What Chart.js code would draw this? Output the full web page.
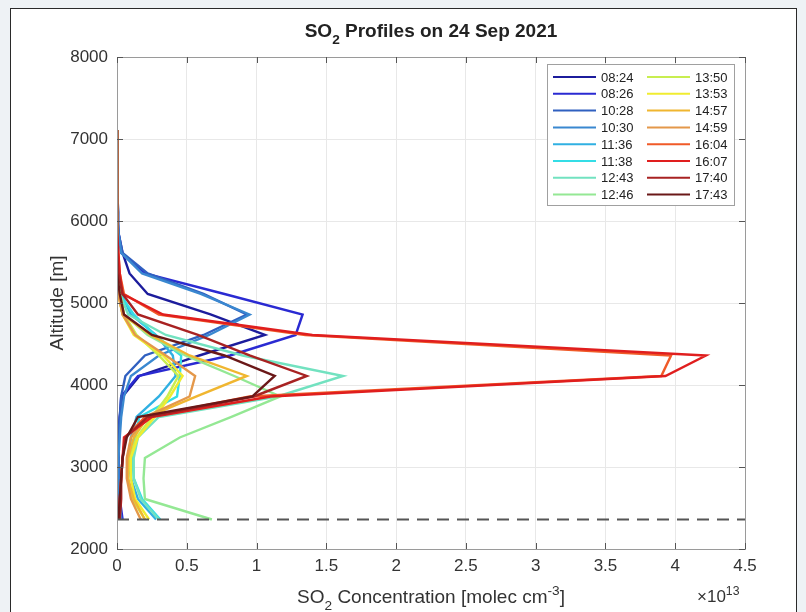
<!DOCTYPE html>
<html>
<head>
<meta charset="utf-8">
<title>SO2 Profiles on 24 Sep 2021</title>
<script src="https://cdn.jsdelivr.net/npm/chart.js@4.4.1/dist/chart.umd.min.js"></script>
<style>
  html, body { margin: 0; padding: 0; background: #eef2f5; }
  .panel { position: absolute; left: 10px; top: 8px; width: 785px; height: 620px; background: #fff; border: 1.5px solid #2a2a2a; }
  #chart { position: absolute; left: 0; top: 0; }
</style>
</head>
<body>
<div class="panel"></div>
<canvas id="chart" width="806" height="612"></canvas>
<script>
// altitude levels [m]
const altitudes = [2360, 2610, 2860, 3110, 3360, 3610, 3860, 4110, 4360, 4610, 4860, 5110, 5360, 5610, 5860, 6110, 6360, 6610, 6860, 7110];

// profile times
const times = ['08:24', '08:26', '10:28', '10:30', '11:36', '11:38', '12:43', '12:46',
               '13:50', '13:53', '14:57', '14:59', '16:04', '16:07', '17:40', '17:43'];

// SO2 concentration, x 1e13 molec cm-3
const c0824 = [0.03, 0.02, 0.01, 0.01, 0.01, 0.02, 0.04, 0.16, 0.59, 1.06, 0.67, 0.22, 0.09, 0.04, 0.01, 0, 0, 0, 0, 0];
const c0826 = [0.04, 0.02, 0.01, 0.01, 0.01, 0.02, 0.03, 0.15, 0.81, 1.28, 1.33, 0.77, 0.20, 0.03, 0.01, 0, 0, 0, 0, 0];
const c1028 = [0.02, 0.01, 0.01, 0.01, 0.01, 0.02, 0.03, 0.06, 0.20, 0.62, 0.93, 0.62, 0.22, 0.04, 0.01, 0.01, 0, 0, 0, 0];
const c1030 = [0.03, 0.02, 0.01, 0.01, 0.02, 0.03, 0.05, 0.10, 0.30, 0.66, 0.95, 0.60, 0.18, 0.03, 0.01, 0, 0, 0, 0, 0];
const c1136 = [0.28, 0.15, 0.10, 0.08, 0.10, 0.14, 0.30, 0.42, 0.40, 0.28, 0.10, 0.03, 0.01, 0, 0, 0, 0, 0, 0, 0];
const c1138 = [0.31, 0.18, 0.12, 0.11, 0.13, 0.16, 0.43, 0.45, 0.46, 0.27, 0.12, 0.02, 0.01, 0, 0, 0, 0, 0, 0, 0];
const c1243 = [0.30, 0.17, 0.12, 0.12, 0.15, 0.30, 1.15, 1.62, 0.90, 0.35, 0.08, 0.02, 0.01, 0, 0, 0, 0, 0, 0, 0];
const c1246 = [0.68, 0.20, 0.19, 0.20, 0.45, 0.82, 1.17, 0.84, 0.49, 0.22, 0.05, 0.02, 0, 0, 0, 0, 0, 0, 0, 0];
const c1350 = [0.20, 0.11, 0.08, 0.09, 0.14, 0.25, 0.36, 0.44, 0.30, 0.14, 0.05, 0.02, 0, 0, 0, 0, 0, 0, 0, 0];
const c1353 = [0.23, 0.13, 0.10, 0.10, 0.15, 0.27, 0.38, 0.47, 0.33, 0.12, 0.04, 0.01, 0, 0, 0, 0, 0, 0, 0, 0];
const c1457 = [0.20, 0.12, 0.08, 0.08, 0.12, 0.22, 0.57, 0.93, 0.52, 0.24, 0.04, 0.01, 0, 0, 0, 0, 0, 0, 0, 0];
const c1459 = [0.17, 0.10, 0.07, 0.07, 0.10, 0.20, 0.52, 0.56, 0.35, 0.13, 0.04, 0.01, 0, 0, 0, 0, 0, 0, 0, 0];
const c1604 = [0.01, 0.02, 0.03, 0.04, 0.06, 0.20, 0.95, 3.90, 3.97, 1.35, 0.30, 0.05, 0.02, 0.01, 0, 0, 0, 0, 0, 0];
const c1607 = [0.01, 0.02, 0.03, 0.04, 0.05, 0.25, 1.10, 3.93, 4.22, 1.40, 0.33, 0.04, 0.02, 0.01, 0, 0, 0, 0, 0, 0];
const c1740 = [0.02, 0.03, 0.03, 0.04, 0.06, 0.22, 0.98, 1.36, 0.95, 0.58, 0.15, 0.04, 0.01, 0, 0, 0, 0, 0, 0, 0];
const c1743 = [0.01, 0.02, 0.03, 0.04, 0.07, 0.15, 0.97, 1.13, 0.77, 0.25, 0.05, 0.02, 0, 0, 0, 0, 0, 0, 0, 0];

const profiles = [c0824, c0826, c1028, c1030, c1136, c1138, c1243, c1246,
                  c1350, c1353, c1457, c1459, c1604, c1607, c1740, c1743];

// dashed reference altitude
const refAltitude = [2360, 2360];
const refConc = [0, 4.5];

const xTicks = [0, 0.5, 1, 1.5, 2, 2.5, 3, 3.5, 4, 4.5];
const yTicks = [2000, 3000, 4000, 5000, 6000, 7000, 8000];

const colors = ['#1c1c9c', '#2a2ad2', '#3060c0', '#3a88d0', '#30b0e2', '#34dde6', '#72e2c0', '#94e894',
                '#c8ee50', '#f0ec30', '#f0b630', '#e4984a', '#f05a28', '#e01e1e', '#a82222', '#6a1818'];

const FONT = '"Liberation Sans", Arial, Helvetica, sans-serif';

const datasets = profiles.map(function (conc, i) {
  return {
    label: times[i],
    data: altitudes.map(function (a, k) { return { x: conc[k], y: a }; }),
    borderColor: colors[i],
    borderWidth: 2.4,
    showLine: true,
    pointRadius: 0,
    tension: 0,
    order: profiles.length - i
  };
});

datasets.push({
  label: 'ref',
  data: refConc.map(function (c, k) { return { x: c, y: refAltitude[k] }; }),
  borderColor: '#555',
  borderWidth: 2,
  borderDash: [12, 8],
  showLine: true,
  pointRadius: 0,
  order: -1
});

// draw text with a sub/superscript piece: parts = [[text, 'n'|'sub'|'sup'], ...]
function partsWidth(ctx, parts, size, weight) {
  let w = 0;
  parts.forEach(function (p) {
    const s = p[1] === 'n' ? size : size * 0.72;
    ctx.font = weight + ' ' + s + 'px ' + FONT;
    w += ctx.measureText(p[0]).width;
  });
  return w;
}

function drawParts(ctx, parts, x, y, size, weight) {
  let cx = x;
  parts.forEach(function (p) {
    const s = p[1] === 'n' ? size : size * 0.72;
    let dy = 0;
    if (p[1] === 'sub') dy = size * 0.35;
    if (p[1] === 'sup') dy = -size * 0.42;
    ctx.font = weight + ' ' + s + 'px ' + FONT;
    ctx.fillText(p[0], cx, y + dy);
    cx += ctx.measureText(p[0]).width;
  });
}

const decorPlugin = {
  id: 'decor',
  afterDraw: function (chart) {
    const ctx = chart.ctx;
    const a = chart.chartArea;
    const xs = chart.scales.x;
    const ys = chart.scales.y;
    ctx.save();

    // axes box + inward ticks
    ctx.strokeStyle = '#9a9a9a';
    ctx.lineWidth = 1;
    ctx.strokeRect(a.left + 0.5, a.top + 0.5, a.right - a.left, a.bottom - a.top);
    ctx.strokeStyle = '#555';
    xTicks.forEach(function (t) {
      const px = Math.round(xs.getPixelForValue(t)) + 0.5;
      ctx.beginPath();
      ctx.moveTo(px, a.bottom); ctx.lineTo(px, a.bottom - 6);
      ctx.moveTo(px, a.top); ctx.lineTo(px, a.top + 6);
      ctx.stroke();
    });
    yTicks.forEach(function (t) {
      const py = Math.round(ys.getPixelForValue(t)) + 0.5;
      ctx.beginPath();
      ctx.moveTo(a.left, py); ctx.lineTo(a.left + 6, py);
      ctx.moveTo(a.right, py); ctx.lineTo(a.right - 6, py);
      ctx.stroke();
    });

    ctx.fillStyle = '#222';
    ctx.textBaseline = 'alphabetic';
    ctx.textAlign = 'left';

    // title
    const title = [['SO', 'n'], ['2', 'sub'], [' Profiles on 24 Sep 2021', 'n']];
    const tw = partsWidth(ctx, title, 19, 'bold');
    drawParts(ctx, title, (a.left + a.right) / 2 - tw / 2, 37, 19, 'bold');

    // x label
    ctx.fillStyle = '#333';
    const xl = [['SO', 'n'], ['2', 'sub'], [' Concentration [molec cm', 'n'], ['-3', 'sup'], [']', 'n']];
    const xw = partsWidth(ctx, xl, 19, 'normal');
    drawParts(ctx, xl, (a.left + a.right) / 2 - xw / 2, 603, 19, 'normal');

    // exponent
    drawParts(ctx, [['\u00d710', 'n'], ['13', 'sup']], 697, 602, 17, 'normal');

    // y label
    ctx.save();
    ctx.translate(63, (a.top + a.bottom) / 2);
    ctx.rotate(-Math.PI / 2);
    ctx.font = '19px ' + FONT;
    ctx.textAlign = 'center';
    ctx.fillText('Altitude [m]', 0, 0);
    ctx.restore();

    // legend, two columns
    const lx = 547, ly = 64, lw = 187, lh = 141;
    ctx.fillStyle = '#fff';
    ctx.fillRect(lx, ly, lw, lh);
    ctx.strokeStyle = '#a0a0a0';
    ctx.lineWidth = 1;
    ctx.strokeRect(lx + 0.5, ly + 0.5, lw, lh);
    ctx.font = '13px ' + FONT;
    ctx.textBaseline = 'middle';
    ctx.fillStyle = '#222';
    times.forEach(function (t, i) {
      const col = Math.floor(i / 8);
      const row = i % 8;
      const x0 = col === 0 ? 553 : 647;
      const y0 = 77 + row * 16.8;
      ctx.strokeStyle = colors[i];
      ctx.lineWidth = 2;
      ctx.beginPath();
      ctx.moveTo(x0, y0); ctx.lineTo(x0 + 43, y0);
      ctx.stroke();
      ctx.fillText(t, x0 + 48, y0 + 1);
    });

    ctx.restore();
  }
};

new Chart(document.getElementById('chart'), {
  type: 'scatter',
  data: { datasets: datasets },
  options: {
    responsive: false,
    animation: false,
    layout: { padding: { left: 0, top: 57, right: 61, bottom: 0 } },
    plugins: {
      legend: { display: false },
      tooltip: { enabled: false }
    },
    scales: {
      x: {
        type: 'linear',
        min: 0,
        max: 4.5,
        afterFit: function (s) { s.height = 63; },
        afterBuildTicks: function (s) { s.ticks = xTicks.map(function (v) { return { value: v }; }); },
        ticks: {
          color: '#333',
          font: { family: FONT, size: 17 },
          padding: 7,
          maxRotation: 0,
          callback: function (v) { return String(v); }
        },
        grid: { color: '#e8e8e8', drawTicks: false },
        border: { display: false }
      },
      y: {
        type: 'linear',
        min: 2000,
        max: 8000,
        afterFit: function (s) { s.width = 117; },
        afterBuildTicks: function (s) { s.ticks = yTicks.map(function (v) { return { value: v }; }); },
        ticks: {
          color: '#333',
          font: { family: FONT, size: 17 },
          padding: 9,
          callback: function (v) { return String(v); }
        },
        grid: { color: '#e8e8e8', drawTicks: false },
        border: { display: false }
      }
    }
  },
  plugins: [decorPlugin]
});
</script>
</body>
</html>
